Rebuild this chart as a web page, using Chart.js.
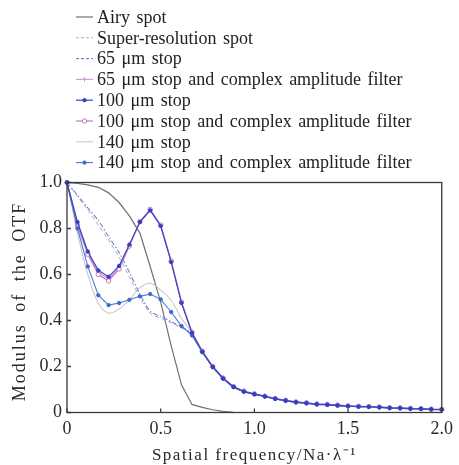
<!DOCTYPE html>
<html>
<head>
<meta charset="utf-8">
<script src="https://cdn.jsdelivr.net/npm/chart.js@4.4.1/dist/chart.umd.min.js"></script>
<style>
  html, body { margin: 0; padding: 0; background: #ffffff; }
  #wrap { width: 459px; height: 465px; position: relative; }
</style>
</head>
<body>
<div id="wrap"><canvas id="c" width="459" height="465"></canvas></div>
<script>
// ---- data ----
const freq = [0, 0.056, 0.111, 0.167, 0.222, 0.278, 0.333, 0.389, 0.444, 0.5, 0.556, 0.611, 0.667, 0.722, 0.778, 0.833, 0.889, 0.944, 1.0, 1.056, 1.111, 1.167, 1.222, 1.278, 1.333, 1.389, 1.444, 1.5, 1.556, 1.611, 1.667, 1.722, 1.778, 1.833, 1.889, 1.944, 2.0];

const airySpot = [1.0, 0.996, 0.99, 0.979, 0.955, 0.913, 0.855, 0.78, 0.635, 0.48, 0.29, 0.12, 0.035, 0.022, 0.012, 0.005, 0.001, 0, 0, 0, 0, 0, 0, 0, 0, 0, 0, 0, 0, 0, 0, 0, 0, 0, 0, 0, 0];
const superResSpot = [1.0, 0.94, 0.88, 0.815, 0.75, 0.675, 0.59, 0.5, 0.432, 0.41, 0.39, 0.368, 0.338, 0.262, 0.197, 0.147, 0.11, 0.09, 0.079, 0.069, 0.059, 0.051, 0.044, 0.040, 0.035, 0.033, 0.030, 0.027, 0.025, 0.024, 0.022, 0.019, 0.018, 0.016, 0.015, 0.013, 0.012];
const stop65 = [1.0, 0.945, 0.89, 0.835, 0.765, 0.695, 0.61, 0.515, 0.44, 0.418, 0.395, 0.372, 0.342, 0.263, 0.197, 0.147, 0.11, 0.09, 0.079, 0.069, 0.059, 0.051, 0.044, 0.040, 0.035, 0.033, 0.030, 0.027, 0.025, 0.024, 0.022, 0.019, 0.018, 0.016, 0.015, 0.013, 0.012];
const stop65Filter = [1.0, 0.82, 0.695, 0.61, 0.58, 0.63, 0.727, 0.829, 0.881, 0.813, 0.657, 0.479, 0.348, 0.266, 0.2, 0.15, 0.113, 0.093, 0.081, 0.071, 0.061, 0.053, 0.046, 0.042, 0.037, 0.035, 0.032, 0.029, 0.027, 0.026, 0.024, 0.021, 0.020, 0.018, 0.017, 0.015, 0.014];
const stop100 = [1.0, 0.828, 0.70, 0.618, 0.590, 0.637, 0.73, 0.828, 0.879, 0.811, 0.654, 0.476, 0.346, 0.264, 0.198, 0.148, 0.111, 0.091, 0.080, 0.070, 0.060, 0.052, 0.045, 0.041, 0.036, 0.034, 0.031, 0.028, 0.026, 0.025, 0.023, 0.020, 0.019, 0.017, 0.016, 0.014, 0.013];
const stop100Filter = [1.0, 0.812, 0.688, 0.6, 0.572, 0.624, 0.724, 0.83, 0.883, 0.815, 0.659, 0.48, 0.349, 0.267, 0.2, 0.15, 0.113, 0.093, 0.081, 0.071, 0.061, 0.053, 0.046, 0.042, 0.037, 0.035, 0.032, 0.029, 0.027, 0.026, 0.024, 0.021, 0.020, 0.018, 0.017, 0.015, 0.014];
const stop140 = [1.0, 0.78, 0.60, 0.475, 0.432, 0.45, 0.49, 0.543, 0.562, 0.533, 0.487, 0.41, 0.345, 0.265, 0.198, 0.148, 0.111, 0.091, 0.080, 0.070, 0.060, 0.052, 0.045, 0.041, 0.036, 0.034, 0.031, 0.028, 0.026, 0.025, 0.023, 0.020, 0.019, 0.017, 0.016, 0.014, 0.013];
const stop140Filter = [1.0, 0.80, 0.635, 0.51, 0.467, 0.476, 0.49, 0.505, 0.515, 0.492, 0.437, 0.376, 0.335, 0.262, 0.197, 0.147, 0.11, 0.09, 0.079, 0.069, 0.059, 0.051, 0.044, 0.040, 0.035, 0.033, 0.030, 0.027, 0.025, 0.024, 0.022, 0.019, 0.018, 0.016, 0.015, 0.013, 0.012];

const seriesNames = [
  'Airy spot',
  'Super-resolution spot',
  '65 \u03bcm stop',
  '65 \u03bcm stop and complex amplitude filter',
  '100 \u03bcm stop',
  '100 \u03bcm stop and complex amplitude filter',
  '140 \u03bcm stop',
  '140 \u03bcm stop and complex amplitude filter'
];
const xTicks = [0, 0.5, 1.0, 1.5, 2.0];
const yTicks = [0, 0.2, 0.4, 0.6, 0.8, 1.0];
const xTitle = 'Spatial frequency/Na\u00b7\u03bb\u207b\u00b9';
const yTitle = 'Modulus of the OTF';

// ---- chart ----
const SERIF = '"Liberation Serif", "Times New Roman", serif';
const pts = vals => freq.map((x, i) => ({ x: x, y: vals[i] }));

const styles = [
  { color: '#707070', width: 1.2, dash: [], order: 7, point: null, tension: 0 },
  { color: '#a8a8b8', width: 1.0, dash: [4, 3], order: 6, point: null, tension: 0.3 },
  { color: '#6c82d6', width: 1.1, dash: [5, 2, 1.5, 2], order: 5, point: null, tension: 0.3 },
  { color: '#dc98d4', width: 1.2, dash: [], order: 3, point: { style: 'cross', r: 2.5, fill: '#dc98d4', stroke: '#dc98d4' }, tension: 0 },
  { color: '#3848c0', width: 1.2, dash: [], order: 0, point: { style: 'circle', r: 1.7, fill: '#3040c0', stroke: '#3040c0' }, tension: 0 },
  { color: '#c874c0', width: 1.2, dash: [], order: 2, point: { style: 'circle', r: 2.2, fill: '#ffffff', stroke: '#c874c0' }, tension: 0 },
  { color: '#c8c8c8', width: 1.1, dash: [], order: 6, point: null, tension: 0.35 },
  { color: '#4a78d0', width: 1.1, dash: [], order: 1, point: { style: 'circle', r: 1.7, fill: '#3a6ad0', stroke: '#3a6ad0' }, tension: 0 }
];
const seriesValues = [airySpot, superResSpot, stop65, stop65Filter, stop100, stop100Filter, stop140, stop140Filter];

const datasets = seriesValues.map((vals, i) => {
  const s = styles[i];
  return {
    label: seriesNames[i],
    data: pts(vals),
    borderColor: s.color,
    borderWidth: s.width,
    borderDash: s.dash,
    order: s.order,
    tension: s.tension,
    pointStyle: s.point ? s.point.style : 'circle',
    pointRadius: s.point ? s.point.r : 0,
    pointBackgroundColor: s.point ? s.point.fill : s.color,
    pointBorderColor: s.point ? s.point.stroke : s.color,
    pointBorderWidth: 1,
    fill: false,
    clip: 4
  };
});

const CHART_LEFT = 67, CHART_RIGHT = 447, CHART_BOTTOM = 412.5, CHART_TOP = 182.5;

const decorPlugin = {
  id: 'decor',
  afterDraw(chart) {
    const ctx = chart.ctx;
    const a = chart.chartArea;
    const xs = chart.scales.x, ys = chart.scales.y;
    ctx.save();
    // frame
    ctx.strokeStyle = '#3a3a3a';
    ctx.lineWidth = 1.3;
    ctx.setLineDash([]);
    ctx.strokeRect(a.left, a.top, a.right - a.left, a.bottom - a.top);
    // inward ticks
    ctx.beginPath();
    xTicks.forEach(v => {
      const px = xs.getPixelForValue(v);
      ctx.moveTo(px, a.bottom); ctx.lineTo(px, a.bottom - 4);
    });
    yTicks.forEach(v => {
      const py = ys.getPixelForValue(v);
      ctx.moveTo(a.left, py); ctx.lineTo(a.left + 4, py);
    });
    ctx.stroke();

    // axis titles
    ctx.fillStyle = '#2a2a2a';
    ctx.font = '17px ' + SERIF;
    ctx.letterSpacing = '1.5px';
    ctx.textAlign = 'center';
    ctx.textBaseline = 'alphabetic';
    ctx.fillText(xTitle, (a.left + a.right) / 2, 460);

    ctx.save();
    ctx.translate(25, (a.top + a.bottom) / 2 + 4);
    ctx.rotate(-Math.PI / 2);
    ctx.font = '18px ' + SERIF;
    ctx.letterSpacing = '2px';
    ctx.wordSpacing = '5px';
    ctx.fillText(yTitle, 0, 0);
    ctx.restore();

    // legend
    ctx.letterSpacing = '0px';
    ctx.wordSpacing = '2px';
    ctx.font = '18px ' + SERIF;
    ctx.textAlign = 'left';
    ctx.textBaseline = 'middle';
    const rowY0 = 17, rowDY = 20.8;
    chart.data.datasets.forEach((ds, i) => {
      const s = styles[i];
      const y = rowY0 + i * rowDY;
      const x0 = 76, x1 = 93, cx = (x0 + x1) / 2;
      ctx.strokeStyle = s.color;
      ctx.lineWidth = s.width;
      ctx.setLineDash(s.dash.length ? [3, 2] : []);
      ctx.beginPath(); ctx.moveTo(x0, y); ctx.lineTo(x1, y); ctx.stroke();
      ctx.setLineDash([]);
      if (s.point) {
        ctx.fillStyle = s.point.fill; ctx.strokeStyle = s.point.stroke; ctx.lineWidth = 1;
        ctx.beginPath();
        if (s.point.style === 'circle') {
          ctx.arc(cx, y, s.point.r, 0, Math.PI * 2);
          ctx.fill(); ctx.stroke();
        } else {
          const r = s.point.r;
          ctx.moveTo(cx - r, y); ctx.lineTo(cx + r, y);
          ctx.moveTo(cx, y - r); ctx.lineTo(cx, y + r);
          ctx.stroke();
        }
      }
      ctx.fillStyle = '#222222';
      ctx.fillText(ds.label, 97, y + 1);
    });
    ctx.restore();
  }
};

new Chart(document.getElementById('c'), {
  type: 'line',
  data: { datasets: datasets },
  options: {
    responsive: false,
    animation: false,
    devicePixelRatio: 1,
    layout: { padding: { top: CHART_TOP, right: 459 - CHART_RIGHT, left: 0, bottom: 0 } },
    plugins: { legend: { display: false }, tooltip: { enabled: false } },
    scales: {
      x: {
        type: 'linear', min: 0, max: 2,
        afterBuildTicks: s => { s.ticks = xTicks.map(v => ({ value: v })); },
        afterFit: s => { s.height = 465 - CHART_BOTTOM; },
        grid: { display: false, drawTicks: false },
        border: { display: false },
        ticks: {
          padding: 6, color: '#2a2a2a', maxRotation: 0,
          font: { family: SERIF, size: 18 },
          callback: v => (v === 0 ? '0' : Number(v).toFixed(1))
        }
      },
      y: {
        type: 'linear', min: 0, max: 1,
        afterBuildTicks: s => { s.ticks = yTicks.map(v => ({ value: v })); },
        afterFit: s => { s.width = CHART_LEFT; },
        grid: { display: false, drawTicks: false },
        border: { display: false },
        ticks: {
          padding: 5, color: '#2a2a2a',
          font: { family: SERIF, size: 18 },
          callback: v => (v === 0 ? '0' : Number(v).toFixed(1))
        }
      }
    }
  },
  plugins: [decorPlugin]
});
</script>
</body>
</html>
